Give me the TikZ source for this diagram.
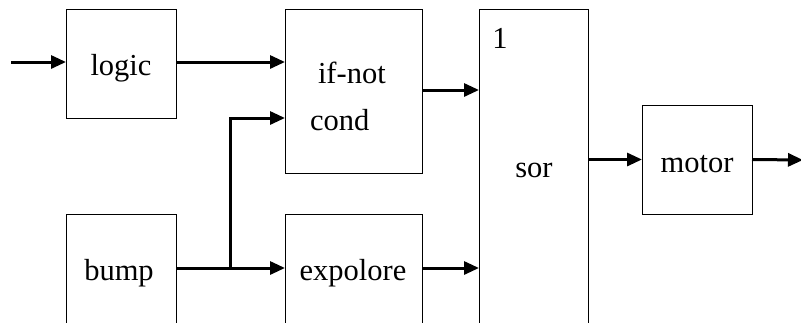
\documentclass[tikz,border=0pt]{standalone}
\usepackage{fontspec}
\setmainfont{Liberation Serif}
\usetikzlibrary{arrows.meta}
\begin{document}
\begin{tikzpicture}[x=1pt,y=-1pt,
  blk/.style={draw,line width=1pt,rectangle,inner sep=0pt,outer sep=0pt},
  lbl/.style={inner sep=0pt,outer sep=0pt,font=\rmfamily\fontsize{30.5}{36}\selectfont},
  arr/.style={line width=3pt,-{Triangle[length=15pt,width=13pt]}}]
  \useasboundingbox (0,0) rectangle (801,322);
  \clip (0,0) rectangle (801,322);
  % blocks
  \node[blk,minimum width=110pt,minimum height=109pt] (logic) at (121,63.5) {};
  \node[blk,minimum width=137pt,minimum height=164pt] (ifnot) at (353.5,91) {};
  \node[blk,minimum width=110pt,minimum height=126pt] (bump) at (121,277) {};
  \node[blk,minimum width=137pt,minimum height=126pt] (expl) at (353.5,277) {};
  \node[blk,minimum width=109pt,minimum height=331pt] (sor) at (533.5,174.5) {};
  \node[blk,minimum width=110pt,minimum height=109pt] (motor) at (697,159.5) {};
  % labels
  \node[lbl,anchor=base] (tlogic) at (121,75) {logic};
  \node[lbl,anchor=base west] (tif) at (318,83) {if-not};
  \node[lbl,anchor=base west] (tcond) at (310,130) {cond};
  \node[lbl,anchor=base] (tbump) at (119,280) {bump};
  \node[lbl,anchor=base] (texpl) at (353,280) {expolore};
  \node[lbl,anchor=base] (tone) at (500,48) {1};
  \node[lbl,anchor=base] (tsor) at (534,177) {sor};
  \node[lbl,anchor=base] (tmotor) at (697,172) {motor};
  % connectors
  \coordinate (in) at (11,62);
  \coordinate (j) at (230,268);
  \coordinate (c) at (285,118);
  \coordinate (out) at (803,160);
  \draw[arr] (in) -- (in -| logic.west);
  \draw[arr] (in -| logic.east) -- (in -| ifnot.west);
  \draw[line width=3pt] (j -| bump.east) -- (j);
  \draw[arr] (j) -- (j -| expl.west);
  \draw[arr] (j) |- (c -| ifnot.west);
  \draw[arr] ([yshift=1pt]ifnot.east) -- ([yshift=1pt]ifnot.east -| sor.west);
  \draw[arr] (j -| expl.east) -- (j -| sor.west);
  \draw[arr] (motor.west -| sor.east) -- (motor.west);
  \draw[arr] (motor.east) -- (out);
\end{tikzpicture}
\end{document}
